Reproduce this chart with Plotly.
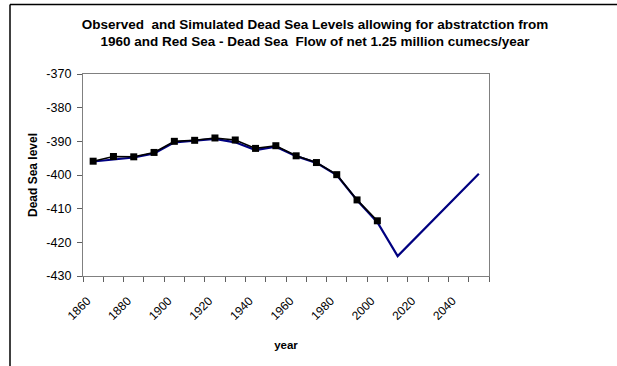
import plotly.graph_objects as go

years = list(range(1860, 2060, 10))
obs_years = list(range(1860, 2010, 10))
observed = [-395.9, -394.5, -394.6, -393.3, -390.0, -389.7, -389.0, -389.6, -392.1,
            -391.3, -394.3, -396.3, -399.9, -407.4, -413.6]
simulated = [-396.0, -395.4, -394.8, -393.6, -390.3, -389.8, -389.3, -390.3, -392.6,
             -391.6, -394.4, -396.4, -400.0, -407.5, -414.0, -424.1, -418.0, -411.9,
             -405.7, -399.6]
xtick_labels = [1860, 1880, 1900, 1920, 1940, 1960, 1980, 2000, 2020, 2040]
ytick_vals = [-430, -420, -410, -400, -390, -380, -370]

FONT = "Liberation Sans, Arial, sans-serif"

fig = go.Figure()
fig.add_trace(go.Scatter(x=years, y=simulated, mode="lines",
                         line=dict(color="#000080", width=2.2), name="Simulated"))
fig.add_trace(go.Scatter(x=obs_years, y=observed, mode="lines+markers",
                         line=dict(color="#000000", width=1.6),
                         marker=dict(symbol="square", size=7, color="#000000"),
                         name="Observed"))

W, H = 617, 366
L, R, T, B = 83, 489, 74, 276
pw, ph = R - L, B - T

def px(x):
    return (x - L) / pw

def py(y):
    return 1 - (y - T) / ph

fig.update_layout(
    width=W, height=H,
    margin=dict(l=L, r=W - R, t=T, b=H - B),
    paper_bgcolor="white", plot_bgcolor="white",
    showlegend=False,
    font=dict(family=FONT, color="black"),
    title=dict(text="<b>Observed  and Simulated Dead Sea Levels allowing for abstratction from<br>"
                    "1960 and Red Sea - Dead Sea  Flow of net 1.25 million cumecs/year</b>",
               x=315 / W, xanchor="center", y=1 - 28.5 / H, yanchor="middle",
               font=dict(size=13.5, family=FONT, color="black")),
    xaxis=dict(range=[1855, 2055], tickvals=xtick_labels,
               ticktext=[str(v) for v in xtick_labels], ticks="",
               tickangle=-45, tickfont=dict(size=12, family=FONT, color="black"),
               ticklabelstandoff=12, ticklabelshift=-6,
               minor=dict(tick0=1855, dtick=10, ticks="outside", ticklen=5,
                          tickcolor="#606060", tickwidth=1),
               showline=True, linecolor="#808080", linewidth=1.3, mirror=True,
               showgrid=False, zeroline=False,
               title=dict(text="<b>year</b>", font=dict(size=11.5, family=FONT, color="black"),
                          standoff=19)),
    yaxis=dict(range=[-430, -370], tickvals=ytick_vals,
               ticktext=[str(v) for v in ytick_vals], ticks="outside", ticklen=5,
               tickcolor="#606060", tickwidth=1, ticklabelstandoff=3,
               tickfont=dict(size=12.5, family=FONT, color="black"),
               showline=True, linecolor="#808080", linewidth=1.3, mirror=True,
               showgrid=False, zeroline=False,
               title=dict(text="<b>Dead Sea level</b>",
                          font=dict(size=12, family=FONT, color="black"), standoff=6)),
)

# outer chart border (top and left visible)
fig.add_shape(type="line", xref="paper", yref="paper",
              x0=px(10), x1=px(W + 20), y0=py(4.5), y1=py(4.5),
              line=dict(color="black", width=1.5))
fig.add_shape(type="line", xref="paper", yref="paper",
              x0=px(10), x1=px(10), y0=py(4.5), y1=py(H + 20),
              line=dict(color="black", width=1.5))

fig.write_html("out.html", config={"displayModeBar": False},
               post_script="document.body.style.margin='0';")
